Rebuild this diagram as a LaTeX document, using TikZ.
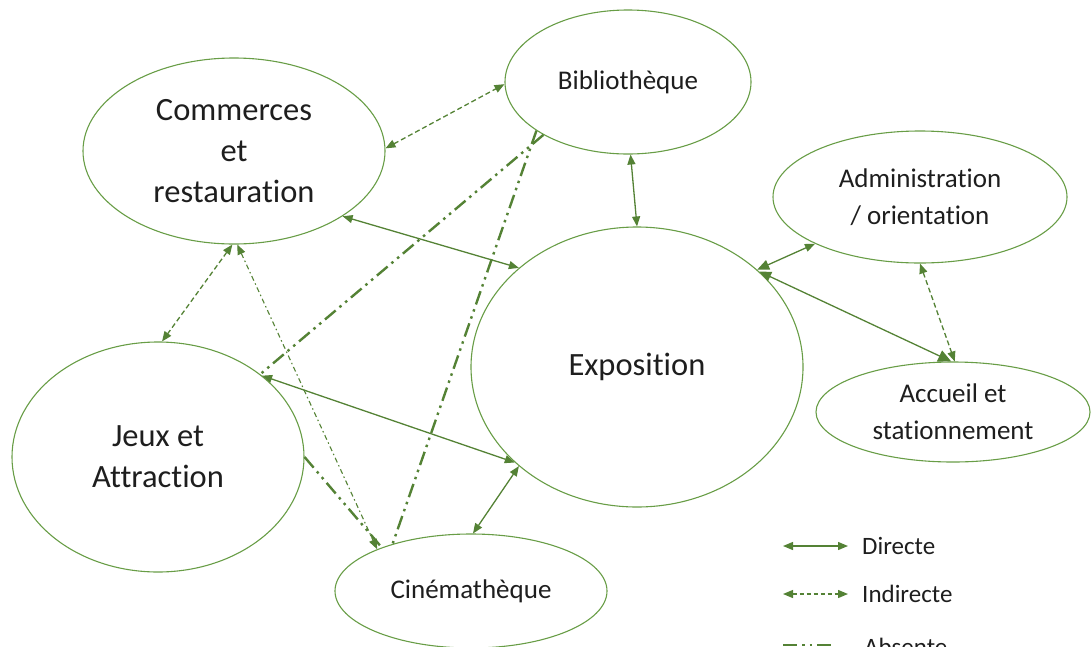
\documentclass[tikz,border=0pt]{standalone}
\usepackage{fontspec}
\setmainfont[Ligatures={NoCommon}]{Carlito}
\usetikzlibrary{arrows.meta,shapes.geometric}
\definecolor{lg}{RGB}{84,130,53}
\definecolor{bd}{RGB}{104,157,70}
\definecolor{tx}{RGB}{30,30,30}
\begin{document}
\begin{tikzpicture}[x=1pt,y=-1pt,
  el/.style={ellipse,draw=bd,line width=1.1pt,inner sep=0pt,text=tx,align=center},
  big/.style={font=\fontsize{32.5}{41}\selectfont},
  mid/.style={font=\fontsize{27}{37}\selectfont},
  leg/.style={font=\fontsize{25}{30}\selectfont,text=tx,anchor=west,inner sep=0pt},
  direct/.style={draw=lg,line width=1.3pt,{Triangle[length=10pt,width=8pt]}-{Triangle[length=10pt,width=8pt]}},
  indirect/.style={direct,dash pattern=on 5pt off 3pt},
  thindd/.style={direct,line width=1.1pt,dash pattern=on 5pt off 3pt on 1.5pt off 3pt},
  absent/.style={draw=lg,line width=2.4pt,dash pattern=on 14pt off 5pt on 2.5pt off 5pt on 2.5pt off 5pt},
]
\useasboundingbox (0,0) rectangle (1092,646);
\clip (0,0) rectangle (1092,646);

% nodes
\node[el,big,minimum width=302pt,minimum height=186pt] (com) at (234,151) {Commerces\\et\\restauration};
\node[el,mid,minimum width=246pt,minimum height=144pt] (bib) at (628,82) {Biblioth\`eque};
\node[el,mid,minimum width=294pt,minimum height=132pt] (adm) at (920,197) {Administration\\/ orientation};
\node[el,big,minimum width=332pt,minimum height=280pt] (exp) at (637,367) {Exposition};
\node[el,mid,minimum width=274pt,minimum height=100pt] (acc) at (953,412) {Accueil et\\stationnement};
\node[el,big,minimum width=292pt,minimum height=230pt] (jeux) at (158,457) {Jeux et\\Attraction};
\node[el,mid,minimum width=272pt,minimum height=114pt] (cine) at (471,591) {Cin\'emath\`eque};

% connectors
\draw[indirect] (com.1) -- (bib.181);
\draw[direct] (com.-31) -- (exp.140);
\draw[indirect] (com.269) -- (jeux.88);
\draw[thindd] (com.272) -- (cine.156);
\draw[direct] (bib.272) -- (exp.90);
\draw[absent] (bib.212) -- (jeux.39);
\draw[absent] (bib.208) -- (cine.149);
\draw[absent] (jeux.0) -- (cine.154);
\draw[direct] (jeux.38) -- (exp.218);
\draw[direct] (exp.220) -- (cine.88);
\draw[direct,{Triangle[length=12pt,width=10pt]}-{Triangle[length=10pt,width=8pt]}] (exp.39) -- (adm.204);
\draw[direct,{Triangle[length=12pt,width=10pt]}-{Triangle[length=13pt,width=12pt]}] (exp.38) -- (acc.92);
\draw[indirect] (adm.270) -- (acc.88);

% legend
\coordinate (d1) at (783,546); \coordinate (d2) at (848,546);
\coordinate (i1) at (783,594); \coordinate (i2) at (848,594);
\coordinate (a1) at (783,645); \coordinate (a2) at (832,645);
\draw[direct] (d1) -- (d2);
\draw[indirect,dash pattern=on 4pt off 3pt] (i1) -- (i2);
\draw[absent] (a1) -- (a2);
\node[leg] (ld) at (862,546) {Directe};
\node[leg] (li) at (862,594) {Indirecte};
\node[leg,anchor=base west] (la) at (864,655) {Absente};
\end{tikzpicture}
\end{document}
